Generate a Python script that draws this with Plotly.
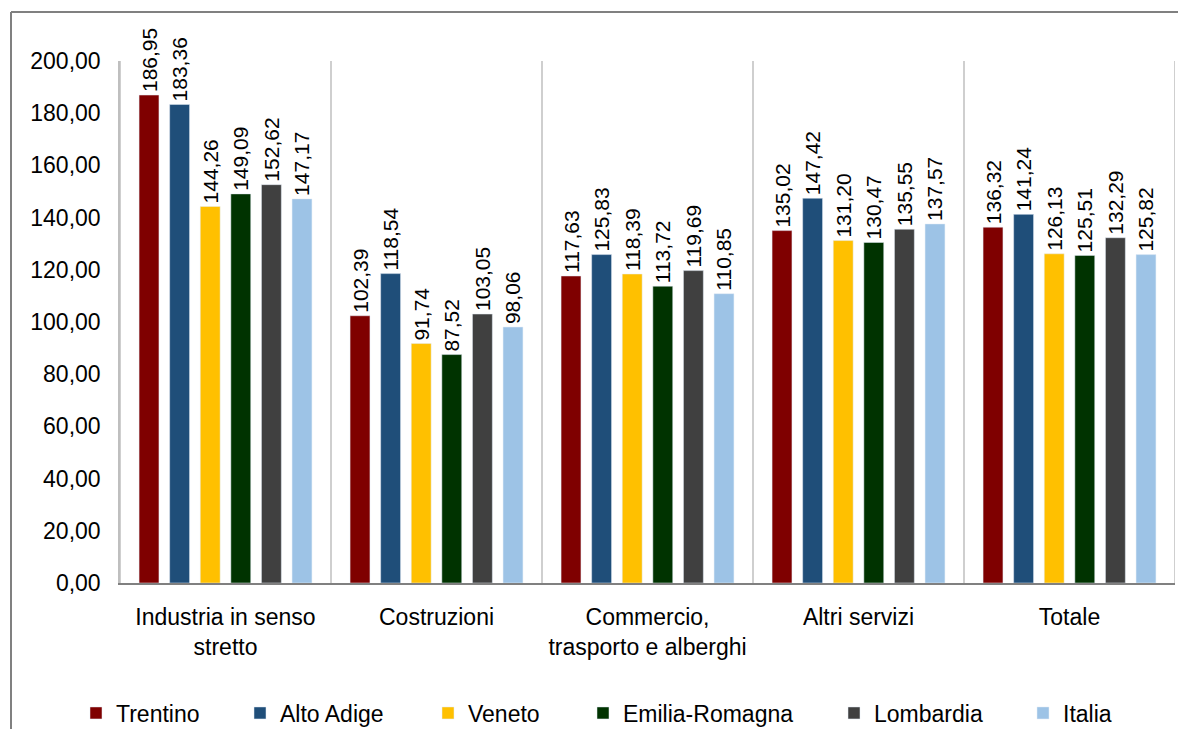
import plotly.graph_objects as go

# Settori economici (asse x) e regioni (serie)
settori = ["Industria in senso<br>stretto", "Costruzioni", "Commercio,<br>trasporto e alberghi",
           "Altri servizi", "Totale"]

trentino = [186.95, 102.39, 117.63, 135.02, 136.32]
alto_adige = [183.36, 118.54, 125.83, 147.42, 141.24]
veneto = [144.26, 91.74, 118.39, 131.20, 126.13]
emilia_romagna = [149.09, 87.52, 113.72, 130.47, 125.51]
lombardia = [152.62, 103.05, 119.69, 135.55, 132.29]
italia = [147.17, 98.06, 110.85, 137.57, 125.82]

serie = [
    ("Trentino", trentino, "#7F0000"),
    ("Alto Adige", alto_adige, "#1F4E79"),
    ("Veneto", veneto, "#FFC000"),
    ("Emilia-Romagna", emilia_romagna, "#003300"),
    ("Lombardia", lombardia, "#404040"),
    ("Italia", italia, "#9DC3E6"),
]

W, H = 1178, 729
ML, MR, MT, MB = 120, 3, 61, 146
PW, PH = W - ML - MR, H - MT - MB

# posizione orizzontale (px) di ciascuna voce di legenda
legend_px = [76, 240, 428, 583, 834, 1023]

fig = go.Figure()
for i, (nome, valori, colore) in enumerate(serie):
    lg = "legend" if i == 0 else f"legend{i + 1}"
    fig.add_trace(go.Bar(
        x=settori, y=valori, name=nome, marker_color=colore,
        text=[f"{v:.2f}".replace(".", ",") for v in valori],
        textposition="outside", textangle=-90, constraintext="none",
        textfont=dict(family="Arial", size=21, color="black"),
        cliponaxis=False, legend=lg, showlegend=True,
    ))

layout_legends = {}
for i, px in enumerate(legend_px):
    key = "legend" if i == 0 else f"legend{i + 1}"
    layout_legends[key] = dict(
        x=(px - ML) / PW, xanchor="left", y=(MT + PH - 713) / PH, yanchor="middle",
        orientation="h", bgcolor="rgba(0,0,0,0)",
        font=dict(family="Arial", size=23, color="black"),
    )

# separatori verticali tra le categorie
shapes = []
for k in range(len(settori) + 1):
    shapes.append(dict(type="line", xref="x", yref="y", x0=k - 0.5, x1=k - 0.5,
                       y0=0, y1=200, line=dict(color="#BFBFBF", width=1.5), layer="below"))
# cornice esterna (lato sinistro e superiore)
fx = (11 - ML) / PW
fy = (MT + PH - 12) / PH
shapes.append(dict(type="line", xref="paper", yref="paper", x0=fx, x1=fx,
                   y0=fy, y1=-0.4, line=dict(color="#808080", width=2)))
shapes.append(dict(type="line", xref="paper", yref="paper", x0=fx, x1=1.1,
                   y0=fy, y1=fy, line=dict(color="#808080", width=2)))

fig.update_layout(
    width=W, height=H,
    margin=dict(l=ML, r=MR, t=MT, b=MB, autoexpand=False),
    paper_bgcolor="white", plot_bgcolor="white",
    separators=",.",
    showlegend=True,
    barmode="group", bargap=0.13, bargroupgap=0.35,
    font=dict(family="Arial", size=23, color="black"),
    shapes=shapes,
    **layout_legends,
)
fig.update_xaxes(
    range=[-0.5, len(settori) - 0.5], showgrid=False, showline=True,
    linecolor="#808080", linewidth=2, ticks="", ticklabelstandoff=12,
    tickfont=dict(family="Arial", size=23, color="black"),
)
fig.update_yaxes(
    range=[0, 200], dtick=20, tickformat=".2f", showgrid=False,
    showline=True, linecolor="#BFBFBF", linewidth=1.5, ticks="",
    ticklabelstandoff=13, zeroline=False,
    tickfont=dict(family="Arial", size=23, color="black"),
)

fig.write_html("out.html")
